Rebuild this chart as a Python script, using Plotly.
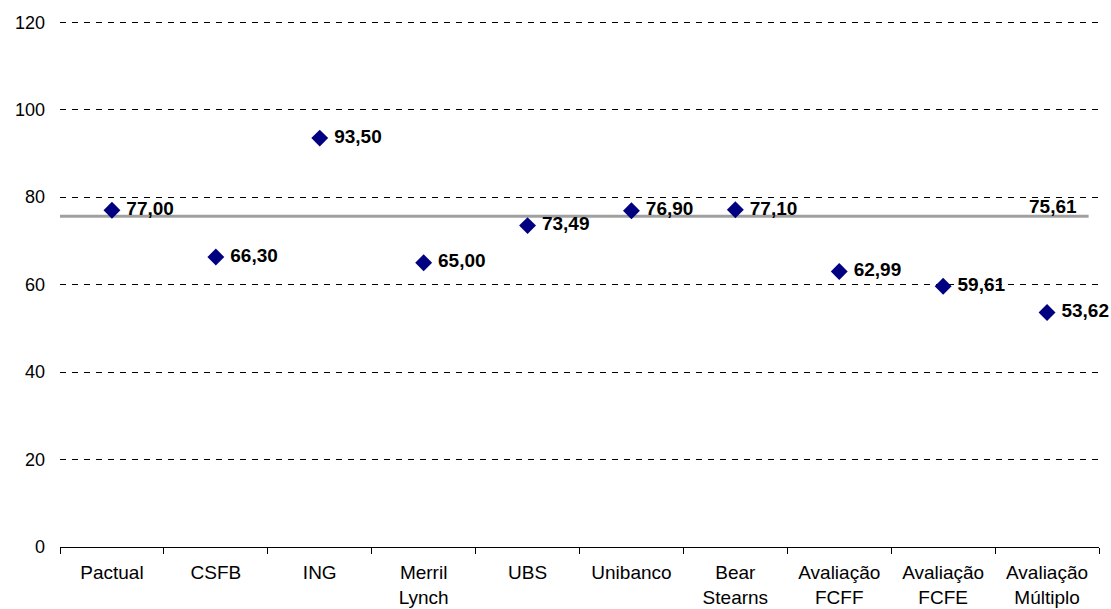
import plotly.graph_objects as go

categories = ["Pactual", "CSFB", "ING", "Merril<br>Lynch", "UBS", "Unibanco",
              "Bear<br>Stearns", "Avaliação<br>FCFF", "Avaliação<br>FCFE", "Avaliação<br>Múltiplo"]
values = [77.00, 66.30, 93.50, 65.00, 73.49, 76.90, 77.10, 62.99, 59.61, 53.62]
bank_values = values[:7]
average_value = round(sum(bank_values) / len(bank_values), 2)  # 75.61
y_ticks = [0, 20, 40, 60, 80, 100, 120]

FONT = "Liberation Sans, Arial, sans-serif"


def fmt(v):
    return f"{v:.2f}".replace(".", ",")


fig = go.Figure()
fig.add_trace(go.Scatter(
    x=categories, y=values, mode="markers+text",
    marker=dict(symbol="diamond", size=13, color="#000080"),
    text=["\u00a0" + fmt(v) for v in values],
    texttemplate="<b>%{text}</b>",
    textposition="middle right",
    textfont=dict(family=FONT, size=19, color="black"),
    cliponaxis=False, showlegend=False, hoverinfo="skip",
))

fig.add_shape(type="line", xref="paper", yref="y", x0=0, x1=0.99,
              y0=average_value, y1=average_value,
              line=dict(color="#A0A0A0", width=3), layer="below")
fig.add_annotation(x=categories[-1], y=average_value, xref="x", yref="y",
                   text=f"<b>{fmt(average_value)}</b>", showarrow=False,
                   xanchor="center", yanchor="bottom", xshift=6, yshift=-3,
                   font=dict(family=FONT, size=19, color="black"))

fig.update_layout(
    width=1111, height=609,
    margin=dict(l=60, r=12, t=20, b=62),
    paper_bgcolor="white", plot_bgcolor="white",
    font=dict(family=FONT, size=19, color="black"),
)
fig.update_xaxes(
    type="category", range=[-0.5, len(categories) - 0.5], automargin=False,
    showline=True, linecolor="black", linewidth=1,
    ticks="outside", tickson="boundaries", ticklen=6, tickcolor="black",
    showgrid=False, zeroline=False, ticklabelstandoff=8,
)
fig.update_yaxes(
    range=[0, 120.5], automargin=False, tickvals=y_ticks, ticktext=[str(t) for t in y_ticks],
    tickfont=dict(size=18),
    showgrid=True, gridcolor="black", gridwidth=1, griddash="6px,6px",
    zeroline=False, showline=False, ticks="", ticklabelstandoff=14,
)

fig.write_html("out.html")
